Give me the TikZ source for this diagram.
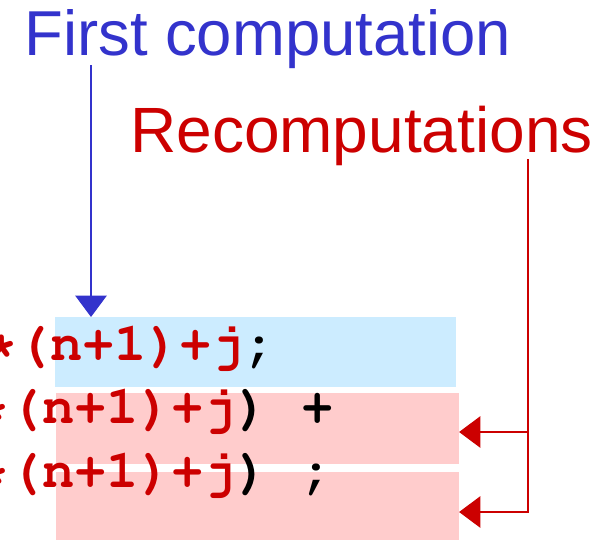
\documentclass[tikz,border=0pt]{standalone}
\usepackage[T1,TU]{fontenc}
\usepackage{fontspec}
\setmainfont{Liberation Sans}
\usepackage{tikz}
\usetikzlibrary{arrows.meta}
\usetikzlibrary{positioning}
\definecolor{firstblue}{HTML}{3333CC}
\definecolor{recred}{HTML}{CC0000}
\definecolor{boxblue}{HTML}{CCECFF}
\definecolor{boxpink}{HTML}{FFCCCC}
\newcommand{\codefnt}{\fontencoding{T1}\fontfamily{pcr}\fontseries{b}\fontsize{40.5}{45}\selectfont}

\begin{document}
\begin{tikzpicture}[x=0.75pt,y=-0.75pt,
	codebox/.style={rectangle, anchor=north west, inner sep=0pt, minimum width=301.9pt, minimum height=53.25pt},
	codeline/.style={anchor=base west, inner sep=0pt, font=\codefnt},
	title/.style={anchor=base west, inner sep=0pt},
	tip/.style={-{Triangle[length=16pt,width=23.5pt]}}]
		\useasboundingbox (0,0) rectangle (613,539);
		\clip (0,0) rectangle (613,539);
		% shaded lines
		\node[codebox, fill=boxblue, minimum width=300.75pt, minimum height=52.5pt] (box1) at (55,317) {}; %% first
		\node[codebox, fill=boxpink] (box2) at (56,393) {}; %% recomputed
		\node[codebox, fill=boxpink, minimum height=60pt] (box3) at (56,472) {}; %% recomputed
		\node[codeline] (code1) at (-14.9,360) {\textcolor{recred}{*(n+1)+j};};
		\node[codeline] (code2) at (-22.9,423) {\textcolor{recred}{*(n+1)+j}) +};
		\node[codeline] (code3) at (-22.9,487) {\textcolor{recred}{*(n+1)+j}) ;};
		% labels
		\node[title, text=firstblue, font=\fontsize{47.6}{50}\selectfont] (first) at (24,55) {First computation};
		\node[title, text=recred, font=\fontsize{48}{50}\selectfont] (recomp) at (130,152) {Recomputations};
		% arrows
		\coordinate (fstart) at (91,65);
		\coordinate (rstart) at (528,159);
		\coordinate (tip1) at (box2.east |- 0,432);
		\coordinate (tip2) at (box3.east |- 0,512);
		\draw[firstblue, line width=1.1pt, tip] (fstart) -- (fstart |- box1.north); %% first use
		\draw[recred, line width=1.5pt, tip] (rstart) |- (tip2); %% lower
		\draw[recred, line width=1.5pt, tip] (rstart |- tip1) -- (tip1); %% upper
	\end{tikzpicture}
\end{document}
